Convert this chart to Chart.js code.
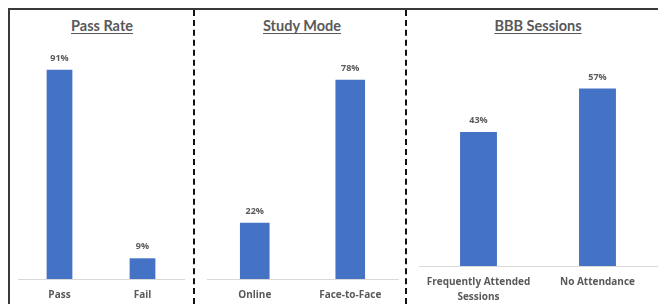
<!DOCTYPE html>
<html>
<head>
<meta charset="utf-8">
<script src="https://cdn.jsdelivr.net/npm/chart.js@4.4.0/dist/chart.umd.min.js"></script>
<style>
  body { margin: 0; background: #fff; width: 658px; height: 304px; overflow: hidden; position: relative; font-family: Lato, sans-serif; }
  .frame-top { position: absolute; left: 8px; top: 8px; width: 650px; height: 0; border-top: 2px solid #3a3a3a; }
  .frame-left { position: absolute; left: 8px; top: 8px; width: 0; height: 296px; border-left: 2px solid #3a3a3a; }
  .dash { position: absolute; top: 10px; width: 0; height: 294px; border-left: 2px dashed #111; }
  .titel { position: absolute; top: 17px; font-weight: 700; font-size: 14.5px; color: #595959; text-decoration: underline; text-underline-offset: 2px; transform: translateX(-50%); white-space: nowrap; }
  .vak { position: absolute; top: 40px; height: 264px; }
</style>
</head>
<body>
<div class="frame-top"></div>
<div class="frame-left"></div>
<div class="dash" style="left:193px"></div>
<div class="dash" style="left:405px"></div>

<div class="titel" style="left:102px">Pass Rate</div>
<div class="titel" style="left:302px">Study Mode</div>
<div class="titel" style="left:538px">BBB Sessions</div>

<div class="vak" style="left:10px;width:183px"><canvas id="chart1"></canvas></div>
<div class="vak" style="left:195px;width:210px"><canvas id="chart2"></canvas></div>
<div class="vak" style="left:407px;width:251px"><canvas id="chart3"></canvas></div>

<script>
// data van de drie grafieken
const passLabels = ['Pass', 'Fail'];
const passValues = [91, 9];

const modeLabels = ['Online', 'Face-to-Face'];
const modeValues = [22, 78];

const bbbLabels = [['Frequently Attended', 'Sessions'], 'No Attendance'];
const bbbValues = [43, 57];

const blauw = '#4472C4';
const grijs = '#595959';

// percentages boven de balken zetten
const procentLabels = {
  id: 'procentLabels',
  afterDatasetsDraw(chart) {
    const ctx = chart.ctx;
    const meta = chart.getDatasetMeta(0);
    const data = chart.data.datasets[0].data;
    ctx.save();
    ctx.font = 'bold 9px "Open Sans"';
    ctx.fillStyle = grijs;
    ctx.textAlign = 'center';
    ctx.textBaseline = 'middle';
    meta.data.forEach((bar, i) => {
      ctx.fillText(data[i] + '%', bar.x, bar.y - 11.5);
    });
    ctx.restore();
  }
};

// asHoogte = vaste hoogte van de x-as onder de balken
function maakGrafiek(canvas, labels, values, max, padding, asHoogte) {
  return new Chart(canvas, {
    type: 'bar',
    data: {
      labels: labels,
      datasets: [{
        data: values,
        backgroundColor: blauw,
        borderWidth: 0,
        categoryPercentage: 1,
        barPercentage: 0.31
      }]
    },
    options: {
      responsive: true,
      maintainAspectRatio: false,
      animation: false,
      layout: { padding: padding },
      plugins: {
        legend: { display: false },
        tooltip: { enabled: false }
      },
      scales: {
        x: {
          grid: { display: false, drawTicks: false },
          border: { color: '#d9d9d9', width: 1 },
          afterFit: (scale) => { scale.height = asHoogte; },
          ticks: {
            color: grijs,
            padding: 9,
            maxRotation: 0,
            font: { family: 'Open Sans', size: 10, weight: 'bold', lineHeight: 1.45 }
          }
        },
        y: {
          display: false,
          min: 0,
          max: max
        }
      }
    },
    plugins: [procentLabels]
  });
}

maakGrafiek(document.getElementById('chart1'), passLabels, passValues, 100,
  { left: 8, right: 9, top: 9, bottom: 1 }, 24);
maakGrafiek(document.getElementById('chart2'), modeLabels, modeValues, 90,
  { left: 12, right: 7, top: 9, bottom: 1 }, 24);
maakGrafiek(document.getElementById('chart3'), bbbLabels, bbbValues, 70,
  { left: 12, right: 1, top: 8, bottom: 0 }, 38);
</script>
</body>
</html>
